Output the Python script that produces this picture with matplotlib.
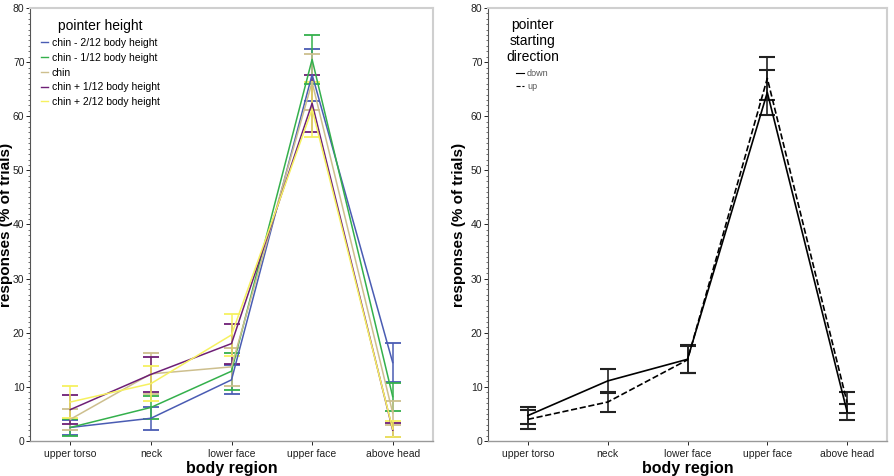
import matplotlib
matplotlib.use("Agg")
import matplotlib.pyplot as plt
from matplotlib.ticker import MultipleLocator
from matplotlib.lines import Line2D
import numpy as np

plt.rcParams['font.family'] = ['Liberation Sans', 'DejaVu Sans']

regions = ["upper torso", "neck", "lower face", "upper face", "above head"]

# Left panel: pointer height
height_labels = ["chin - 2/12 body height", "chin - 1/12 body height", "chin",
                 "chin + 1/12 body height", "chin + 2/12 body height"]
height_colors = ["#4a5cb3", "#34b04c", "#cdbf8e", "#6e1f76", "#f6f160"]
h_minus2 = [2.5, 4.2, 11.3, 67.7, 14.5]
h_minus2_err = [1.4, 2.1, 2.7, 4.8, 3.6]
h_minus1 = [2.5, 6.2, 12.9, 70.5, 8.2]
h_minus1_err = [1.5, 2.2, 3.4, 4.6, 2.6]
h_chin = [4.0, 12.4, 13.7, 66.3, 5.2]
h_chin_err = [2.0, 3.8, 3.5, 5.2, 2.2]
h_plus1 = [5.8, 12.3, 18.0, 62.4, 2.0]
h_plus1_err = [2.7, 3.3, 3.7, 5.3, 1.3]
h_plus2 = [7.2, 10.6, 19.6, 61.3, 2.2]
h_plus2_err = [2.9, 3.2, 3.9, 5.1, 1.5]

# Right panel: pointer starting direction
dir_labels = ["down", "up"]
d_down = [4.7, 11.1, 15.1, 64.4, 5.4]
d_down_err = [1.5, 2.2, 2.6, 4.2, 1.5]
d_up = [4.0, 7.2, 15.0, 67.0, 7.1]
d_up_err = [1.8, 1.8, 2.5, 4.0, 2.0]

fig = plt.figure(figsize=(8.95, 4.76), dpi=100)
axL = fig.add_axes([30/895, 35/476, 403/895, 433/476])
axR = fig.add_axes([488/895, 35/476, 399/895, 433/476])

x = np.arange(len(regions))

def style(ax):
    ax.set_xlim(-0.5, 4.5)
    ax.set_ylim(0, 80)
    ax.set_xticks(x)
    ax.set_xticklabels(regions, fontsize=7.5, color="#222222")
    ax.yaxis.set_major_locator(MultipleLocator(10))
    ax.yaxis.set_minor_locator(MultipleLocator(1))
    ax.tick_params(axis='y', which='major', length=3, width=0.6, labelsize=7.5,
                   labelcolor="#222222", pad=1)
    ax.tick_params(axis='y', which='minor', length=1.5, width=0.4)
    ax.tick_params(axis='x', length=3, width=0.6, pad=3)
    for s in ['top', 'right']:
        ax.spines[s].set_color("#cfcfcf")
        ax.spines[s].set_linewidth(1.5)
    ax.spines['left'].set_color("#555555")
    ax.spines['left'].set_linewidth(0.8)
    ax.spines['bottom'].set_color("#999999")
    ax.spines['bottom'].set_linewidth(1.0)
    ax.set_xlabel("body region", fontsize=11.5, fontweight='bold', labelpad=1)
    ax.set_ylabel("responses (% of trials)", fontsize=11, fontweight='bold')

style(axL)
style(axR)
axL.yaxis.set_label_coords(-0.043, 0.5)
axR.yaxis.set_label_coords(-0.055, 0.5)

series = [(h_minus2, h_minus2_err), (h_minus1, h_minus1_err), (h_chin, h_chin_err),
          (h_plus1, h_plus1_err), (h_plus2, h_plus2_err)]
handlesL = []
for (vals, errs), lab, col in zip(series, height_labels, height_colors):
    axL.errorbar(x, vals, yerr=errs, color=col, lw=1.1, capsize=6, capthick=1.3,
                 elinewidth=1.1)
    handlesL.append(Line2D([], [], color=col, lw=1.0, label=lab))

legL = axL.legend(handles=handlesL, loc='upper left', bbox_to_anchor=(0.0, 1.0),
                  frameon=False, title="pointer height", fontsize=7.5,
                  title_fontsize=10, handlelength=0.6, handletextpad=0.4,
                  labelspacing=0.45, borderpad=0.6)

axR.errorbar(x, d_down, yerr=d_down_err, color="black", lw=1.2, capsize=6,
             capthick=1.5, elinewidth=1.2, ecolor="#222222")
axR.errorbar(x, d_up, yerr=d_up_err, color="black", lw=1.2, ls='--', capsize=6,
             capthick=1.5, elinewidth=1.2, ecolor="#222222")
handlesR = [Line2D([], [], color="black", lw=0.8, label=dir_labels[0]),
            Line2D([], [], color="black", lw=0.8, ls='--', label=dir_labels[1])]

legR = axR.legend(handles=handlesR, loc='upper left', bbox_to_anchor=(0.02, 1.0),
                  frameon=False, title="pointer\nstarting\ndirection", fontsize=6.5,
                  title_fontsize=10, handlelength=0.9, handletextpad=0.3,
                  labelspacing=0.5, borderpad=0.6)
for t in legR.get_texts():
    t.set_color("#555555")
legR.get_title().set_multialignment('center')

fig.savefig("out.png", dpi=100)
